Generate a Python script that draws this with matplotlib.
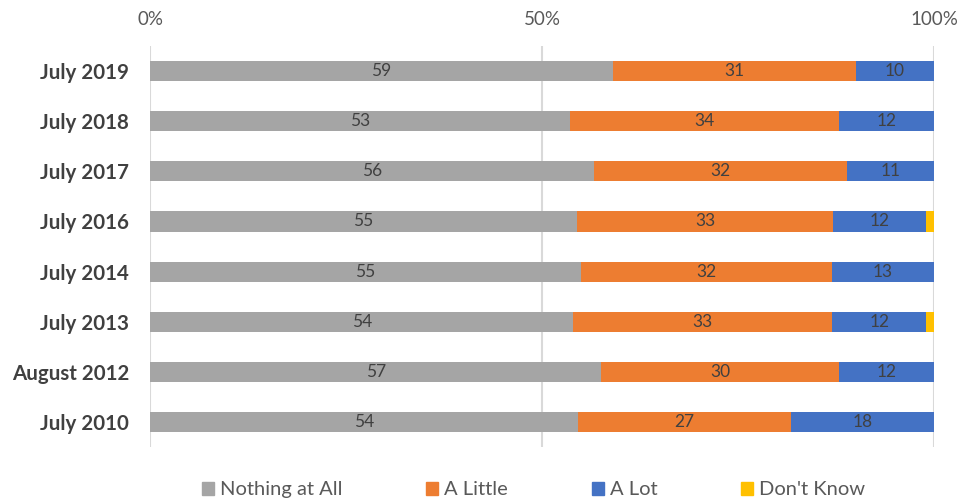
import numpy as np
import matplotlib.pyplot as plt
from matplotlib.patches import Patch

# survey waves, top to bottom
waves = ['July 2019', 'July 2018', 'July 2017', 'July 2016',
         'July 2014', 'July 2013', 'August 2012', 'July 2010']
nothing = [59, 53, 56, 55, 55, 54, 57, 54]
little = [31, 34, 32, 33, 32, 33, 30, 27]
a_lot = [10, 12, 11, 12, 13, 12, 12, 18]
dont_know = [0, 0, 0, 1, 0, 1, 0, 0]

series = [('Nothing at All', nothing, '#A5A5A5'),
          ('A Little', little, '#ED7D31'),
          ('A Lot', a_lot, '#4472C4'),
          ("Don't Know", dont_know, '#FFC000')]

plt.rcParams['font.family'] = ['Lato', 'DejaVu Sans']

fig = plt.figure(figsize=(9.58, 5.01), dpi=100)
ax = fig.add_axes([0.1566, 0.1078, 0.8184, 0.8002])

totals = np.sum([np.array(s[1]) for s in series], axis=0).astype(float)
y = np.arange(len(waves))
left = np.zeros(len(waves))
for name, vals, col in series:
    share = np.array(vals) / totals
    ax.barh(y, share, left=left, height=0.4, color=col, zorder=3)
    if name != "Don't Know":
        for yi, l, w, v in zip(y, left, share, vals):
            ax.text(l + w / 2, yi, str(v), ha='center', va='center',
                    fontsize=12.5, color='#404040', zorder=4)
    left += share

ax.set_ylim(len(waves) - 0.5, -0.5)
ax.set_xlim(0, 1)
ax.set_yticks(y)
ax.set_yticklabels(waves, fontsize=14.8, fontweight='bold', color='#404040')
ax.set_xticks([0, 0.5, 1])
ax.set_xticklabels(['0%', '50%', '100%'], fontsize=13.5, color='#595959')
ax.xaxis.tick_top()
ax.tick_params(axis='both', length=0)
ax.tick_params(axis='x', pad=13)
ax.tick_params(axis='y', pad=15)
ax.grid(axis='x', color='#D9D9D9', linewidth=1.5, zorder=0)
for sp in ax.spines.values():
    sp.set_visible(False)

handles = [Patch(color=c, label=n) for n, _, c in series]
fig.legend(handles=handles, loc='lower center', bbox_to_anchor=(0.557, -0.031),
           ncol=4, frameon=False, fontsize=14.5, labelcolor='#595959',
           handlelength=0.6, handleheight=0.6, handletextpad=0.3,
           columnspacing=4.15)

fig.savefig('out.png', dpi=100)
